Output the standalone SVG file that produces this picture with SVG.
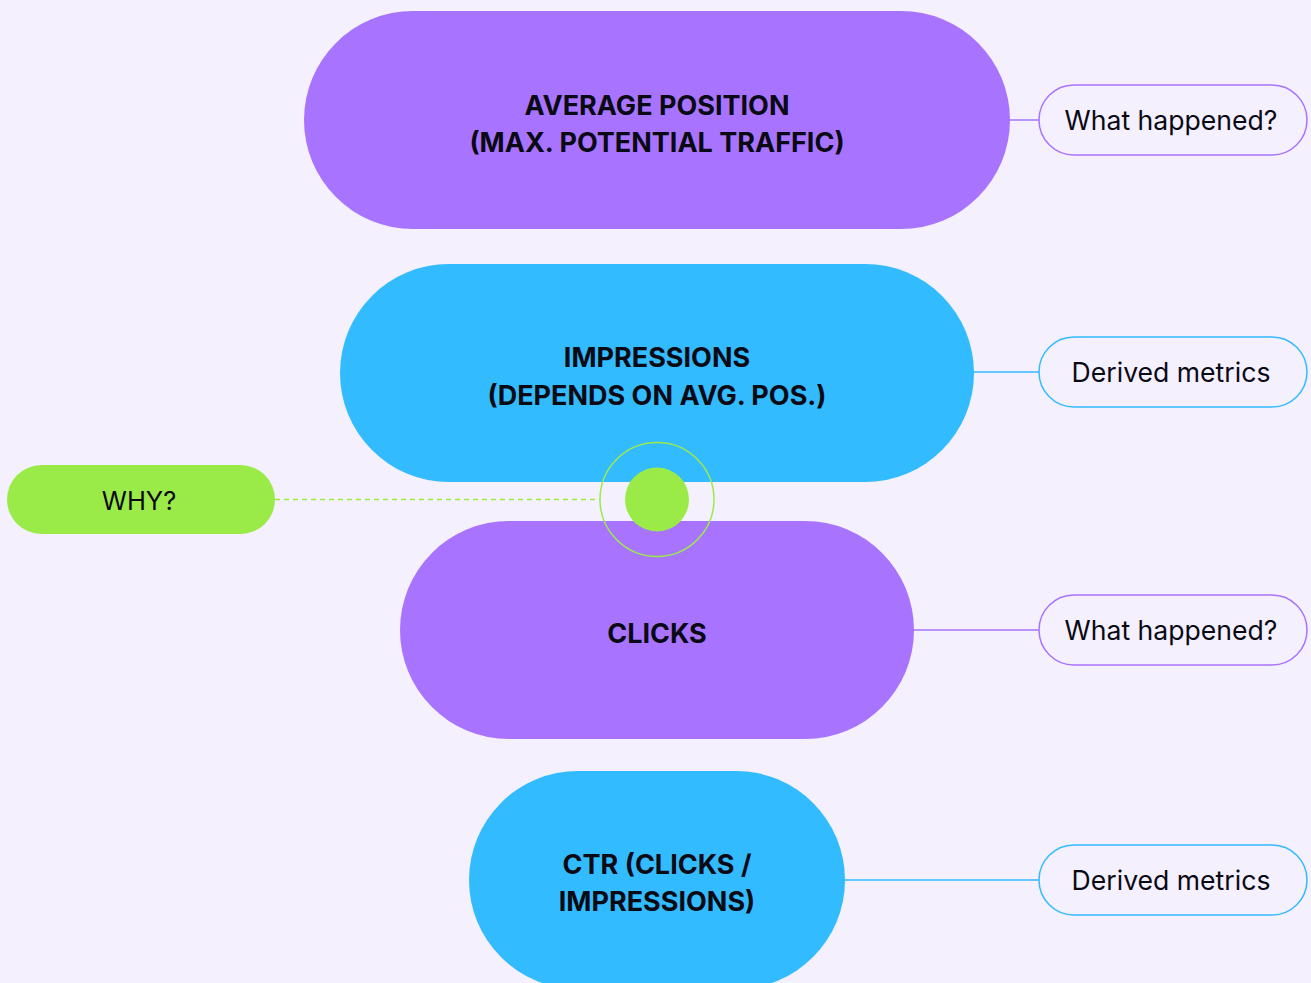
<svg xmlns="http://www.w3.org/2000/svg" width="1311" height="983" viewBox="0 0 1311 983">
<style>
.bg{fill:#F4F0FE}
.purple{fill:#A874FF}
.blue{fill:#33BBFF}
.main{font-family:Inter,"Liberation Sans",sans-serif;font-weight:700;font-size:27px;fill:#0A0A14;text-anchor:middle}
.side{font-family:Inter,"Liberation Sans",sans-serif;font-size:26.6px;fill:#0A0A14;text-anchor:middle}
.pillP{fill:#F4F0FE;stroke:#A874FF;stroke-width:1.5}
.pillB{fill:#F4F0FE;stroke:#33BBFF;stroke-width:1.5}
</style>
<rect class="bg" x="0" y="0" width="1311" height="983"/>
<g id="connectors" fill="none" stroke-width="1.5">
<line x1="1008" y1="120" x2="1039" y2="120" stroke="#A874FF"/>
<line x1="972" y1="372" x2="1039" y2="372" stroke="#33BBFF"/>
<line x1="912" y1="630" x2="1039" y2="630" stroke="#A874FF"/>
<line x1="843" y1="880" x2="1039" y2="880" stroke="#33BBFF"/>
<line x1="275" y1="499.5" x2="600" y2="499.5" stroke="#9BEB48" stroke-dasharray="5,4"/>
</g>
<g id="node-avg">
<rect class="purple" x="304" y="11" width="706" height="218" rx="109"/>
<text class="main" x="657" y="114.5">AVERAGE POSITION</text>
<text class="main" x="657" y="152">(MAX. POTENTIAL TRAFFIC)</text>
</g>
<g id="node-impressions">
<rect class="blue" x="340" y="264" width="634" height="218" rx="109"/>
<text class="main" x="657" y="367">IMPRESSIONS</text>
<text class="main" x="657" y="405">(DEPENDS ON AVG. POS.)</text>
</g>
<g id="node-clicks">
<rect class="purple" x="400" y="521" width="514" height="218" rx="109"/>
<text class="main" x="657" y="643">CLICKS</text>
</g>
<g id="node-ctr">
<rect class="blue" x="469" y="771" width="376" height="218" rx="109"/>
<text class="main" x="657" y="874">CTR (CLICKS /</text>
<text class="main" x="657" y="911">IMPRESSIONS)</text>
</g>
<g id="node-hub">
<circle cx="657" cy="499.5" r="57" fill="none" stroke="#9BEB48" stroke-width="1.5"/>
<circle cx="657" cy="499.5" r="32" fill="#9BEB48"/>
</g>
<g id="node-why">
<rect x="7" y="465" width="268" height="69" rx="34.5" fill="#9BEB48"/>
<text class="side" x="139" y="509.5" style="font-size:25.5px">WHY?</text>
</g>
<g id="label-1">
<rect class="pillP" x="1039" y="85" width="268" height="70" rx="35"/>
<text class="side" x="1171" y="129.5">What happened?</text>
</g>
<g id="label-2">
<rect class="pillB" x="1039" y="337" width="268" height="70" rx="35"/>
<text class="side" x="1171" y="381.5">Derived metrics</text>
</g>
<g id="label-3">
<rect class="pillP" x="1039" y="595" width="268" height="70" rx="35"/>
<text class="side" x="1171" y="639.5">What happened?</text>
</g>
<g id="label-4">
<rect class="pillB" x="1039" y="845" width="268" height="70" rx="35"/>
<text class="side" x="1171" y="889.5">Derived metrics</text>
</g>
</svg>
